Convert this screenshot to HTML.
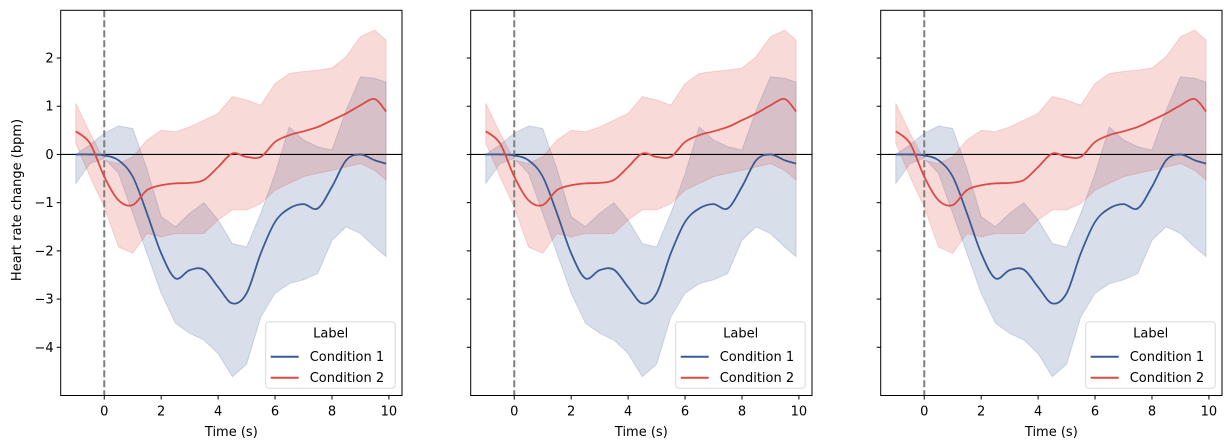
<!DOCTYPE html>
<html><head><meta charset="utf-8"><style>
body{margin:0;background:#fff;}
svg{display:block;font-family:"DejaVu Sans","Liberation Sans",sans-serif;}
</style></head><body>
<svg id="chart" width="1232" height="448" viewBox="0 0 1232 448" xmlns="http://www.w3.org/2000/svg">
<text x="0" y="0" transform="translate(21,200) rotate(-90)" text-anchor="middle" font-size="13" fill="#000">Heart rate change (bpm)</text>
</svg>
<script>
const timeS = [-1,-0.5,0,0.5,1,1.5,2,2.5,3,3.5,4,4.5,5,5.5,6,6.5,7,7.5,8,8.5,9,9.5,9.9];
const cond1Mean = [0,0,-0.02,-0.12,-0.46,-1.22,-2.05,-2.57,-2.4,-2.39,-2.75,-3.09,-2.88,-2.05,-1.4,-1.12,-1.03,-1.12,-0.67,-0.12,0,-0.12,-0.19];
const cond1Upper = [0,0.2,0.44,0.59,0.54,-0.3,-1.29,-1.5,-1.22,-1.0,-1.36,-1.85,-1.92,-1.22,-0.4,0.57,0.3,0.16,0.09,0.92,1.61,1.58,1.5];
const cond1Lower = [-0.6,-0.19,-0.08,-0.39,-1.22,-2.05,-2.88,-3.5,-3.71,-3.85,-4.13,-4.61,-4.35,-3.37,-2.88,-2.68,-2.6,-2.47,-1.78,-1.5,-1.64,-1.92,-2.12];
const cond2Mean = [0.48,0.23,-0.46,-0.95,-1.05,-0.74,-0.64,-0.6,-0.59,-0.53,-0.26,0.02,-0.05,-0.05,0.26,0.4,0.48,0.57,0.71,0.85,1.02,1.15,0.89];
const cond2Upper = [1.06,0.44,-0.12,-0.19,-0.05,0.3,0.5,0.47,0.57,0.71,0.85,1.2,1.13,1.02,1.47,1.68,1.72,1.75,1.79,2.03,2.44,2.58,2.37];
const cond2Lower = [0.23,-0.46,-1.09,-1.92,-2.05,-1.64,-1.71,-1.64,-1.64,-1.64,-1.36,-1.15,-1.15,-1.02,-0.74,-0.6,-0.46,-0.39,-0.33,-0.26,-0.19,-0.33,-0.53];
const xTicks = [0,2,4,6,8,10];
const yTicks = [-4,-3,-2,-1,0,1,2];
const panelLefts = [60.7,470.7,880.7];

const NS="http://www.w3.org/2000/svg";
const svg=document.getElementById('chart');
const W=341.3, TOP=10.3, BOT=395.5, XMIN=-1.53, XMAX=10.46, YMIN=-5, YMAX=2.99;
const BLUE="#3a5a94", RED="#db4a43";
function mk(tag,attrs,parent){const e=document.createElementNS(NS,tag);for(const k in attrs)e.setAttribute(k,attrs[k]);(parent||svg).appendChild(e);return e;}
function smooth(pts){let d=`M${pts[0][0]},${pts[0][1]}`;for(let i=0;i<pts.length-1;i++){const p0=pts[i-1]||pts[i],p1=pts[i],p2=pts[i+1],p3=pts[i+2]||p2;
d+=` C${p1[0]+(p2[0]-p0[0])/6},${p1[1]+(p2[1]-p0[1])/6} ${p2[0]-(p3[0]-p1[0])/6},${p2[1]-(p3[1]-p1[1])/6} ${p2[0]},${p2[1]}`;}return d;}
const fmt=v=>v<0?'\u2212'+(-v):String(v);

panelLefts.forEach((L,pi)=>{
  const xs=v=>L+(v-XMIN)/(XMAX-XMIN)*W;
  const ys=v=>BOT-(v-YMIN)/(YMAX-YMIN)*(BOT-TOP);
  const g=mk('g',{});
  
  
  function band(up,lo,color,name){
    const pts=timeS.map((t,i)=>[xs(t),ys(up[i])]).concat(timeS.map((t,i)=>[xs(t),ys(lo[i])]).reverse());
    const p=mk('polygon',{points:pts.map(p=>p.join(',')).join(' '),fill:color,'fill-opacity':0.2,stroke:color,'stroke-opacity':0.2},g);
    
    
  }
  band(cond1Upper,cond1Lower,BLUE,'condition-1-band');
  band(cond2Upper,cond2Lower,RED,'condition-2-band');
  const z=mk('line',{x1:L,x2:L+W,y1:ys(0),y2:ys(0),stroke:'#000','stroke-width':1.2},g);
  
  
  const v=mk('line',{x1:xs(0),x2:xs(0),y1:TOP,y2:BOT,stroke:'#7f7f7f','stroke-width':2,'stroke-dasharray':'7,3'},g);
  
  
  function line(vals,color,name){
    const l=mk('path',{d:smooth(timeS.map((t,i)=>[xs(t),ys(vals[i])])),fill:'none',stroke:color,'stroke-width':1.8},g);
    
    
  }
  line(cond1Mean,BLUE,'condition-1-line');
  line(cond2Mean,RED,'condition-2-line');
  const fr=mk('rect',{x:L,y:TOP,width:W,height:BOT-TOP,fill:'none',stroke:'#000','stroke-width':1},g);
  
  
  xTicks.forEach(t=>{
    mk('line',{x1:xs(t),x2:xs(t),y1:BOT,y2:BOT+4,stroke:'#000'},g);
    const tx=mk('text',{x:xs(t),y:BOT+20,'text-anchor':'middle','font-size':13},g);
    tx.textContent=fmt(t);
    
    
  });
  yTicks.forEach(t=>{
    mk('line',{x1:L-4,x2:L,y1:ys(t),y2:ys(t),stroke:'#000'},g);
    if(pi===0){
      const tx=mk('text',{x:L-7,y:ys(t)+4.5,'text-anchor':'end','font-size':13},g);
      tx.textContent=fmt(t);
      
      
    }
  });
  const xl=mk('text',{x:L+W/2,y:436,'text-anchor':'middle','font-size':13},g);
  xl.textContent='Time (s)';
  
  
  const lg=mk('g',{},g);
  
  
  const lx=L+205,ly=321.7;
  mk('rect',{x:lx,y:ly,width:129.5,height:66.5,rx:3,fill:'#fff','fill-opacity':0.8,stroke:'#d8d8d8'},lg);
  const tt=mk('text',{x:lx+65,y:ly+16,'text-anchor':'middle','font-size':13},lg);
  tt.textContent='Label';
  [['Condition 1',BLUE],['Condition 2',RED]].forEach((e,i)=>{
    const yy=ly+35+i*21;
    const it=mk('g',{},lg);
    
    
    mk('line',{x1:lx+5,x2:lx+33,y1:yy,y2:yy,stroke:e[1],'stroke-width':2},it);
    const t=mk('text',{x:lx+44,y:yy+4.5,'font-size':13},it);
    t.textContent=e[0];
  });
});
</script>
</body></html>
